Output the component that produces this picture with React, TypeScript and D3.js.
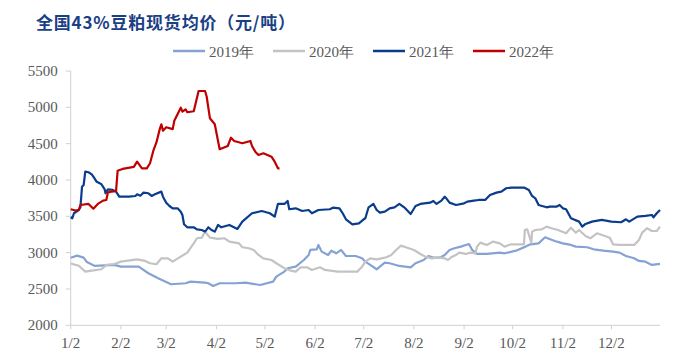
import React from "react";
import * as d3 from "d3";

// day offset from Jan 2, price (元/吨)
const months = ["1/2", "2/2", "3/2", "4/2", "5/2", "6/2", "7/2", "8/2", "9/2", "10/2", "11/2", "12/2"];
const monthDays = [0, 31, 59, 90, 120, 151, 181, 212, 243, 273, 304, 334];
const yTicks = [2000, 2500, 3000, 3500, 4000, 4500, 5000, 5500];

const s2019: [number, number][] = [
  [0, 2930], [4, 2959], [8, 2931], [10, 2870], [15, 2817], [27, 2831], [31, 2807], [42, 2807], [48, 2716],
  [54, 2647], [62, 2565], [71, 2579], [74, 2601], [83, 2587], [85, 2579], [88, 2542], [92, 2579], [102, 2579],
  [108, 2587], [117, 2555], [125, 2601], [127, 2670], [132, 2739], [134, 2785], [139, 2807], [144, 2899],
  [147, 2968], [148, 3037], [152, 3046], [153, 3106], [155, 3014], [159, 2968], [161, 3027], [164, 2991],
  [167, 3037], [170, 2954], [176, 2954], [180, 2922], [182, 2876], [185, 2831], [189, 2771], [191, 2807],
  [194, 2862], [197, 2854], [203, 2817], [210, 2798], [213, 2854], [218, 2899], [221, 2954], [224, 2931],
  [228, 2931], [231, 2968], [234, 3037], [237, 3060], [241, 3083], [244, 3106], [246, 3119], [248, 3037],
  [251, 2982], [257, 2982], [265, 3000], [268, 2991], [275, 3027], [281, 3083], [284, 3115], [289, 3128],
  [293, 3211], [299, 3161], [304, 3128], [309, 3106], [312, 3083], [319, 3074], [323, 3046], [329, 3027],
  [335, 3014], [339, 3000], [343, 2954], [348, 2922], [351, 2886], [355, 2876], [359, 2831], [364, 2845],
];

const s2020: [number, number][] = [
  [0, 2850], [5, 2819], [9, 2739], [13, 2752], [19, 2771], [22, 2831], [27, 2844], [31, 2876], [41, 2908],
  [46, 2886], [49, 2854], [53, 2840], [56, 2922], [60, 2922], [63, 2876], [68, 2945], [72, 3000], [76, 3128],
  [78, 3198], [81, 3206], [83, 3289], [86, 3206], [91, 3190], [95, 3198], [98, 3152], [104, 3128], [106, 3074],
  [110, 3060], [113, 3037], [116, 2968], [119, 2922], [124, 2899], [127, 2854], [132, 2785], [136, 2752],
  [139, 2739], [142, 2798], [146, 2798], [149, 2762], [154, 2798], [157, 2762], [165, 2739], [177, 2739],
  [180, 2807], [182, 2876], [185, 2922], [189, 2908], [192, 2922], [195, 2936], [198, 2968], [201, 3037],
  [204, 3096], [207, 3074], [212, 3037], [216, 2982], [219, 2945], [223, 2922], [227, 2936], [231, 2922],
  [233, 2899], [235, 2936], [238, 2968], [240, 3000], [244, 2982], [247, 3000], [250, 2991], [251, 3083],
  [253, 3138], [257, 3106], [261, 3152], [265, 3128], [268, 3083], [272, 3115], [280, 3115], [280.5, 3312],
  [282, 3321], [284, 3174], [284.5, 3138], [285, 3289], [287, 3312], [291, 3321], [294, 3358], [297, 3336],
  [301, 3312], [306, 3266], [309, 3344], [312, 3275], [314, 3312], [318, 3229], [321, 3198], [325, 3266],
  [330, 3229], [333, 3206], [335, 3115], [339, 3106], [348, 3106], [351, 3174], [353, 3275], [356, 3336],
  [359, 3298], [362, 3298], [364, 3358],
];

const s2021: [number, number][] = [
  [0, 3490], [1, 3473], [2, 3542], [5, 3587], [6, 3624], [7, 3908], [8, 3931], [9, 4115], [11, 4106],
  [13, 4078], [14, 4046], [16, 3977], [18, 3954], [19, 3941], [21, 3872], [21.5, 3817], [22, 3840], [23, 3872],
  [26, 3863], [28, 3840], [30, 3770], [36, 3770], [40, 3780], [41, 3803], [43, 3784], [45, 3826], [48, 3817],
  [50, 3780], [52, 3803], [56, 3840], [57, 3770], [59, 3688], [61, 3642], [63, 3610], [66, 3610], [68, 3564],
  [69, 3518], [70, 3390], [72, 3349], [76, 3349], [78, 3321], [81, 3312], [83, 3289], [85, 3349], [87, 3312],
  [89, 3289], [91, 3381], [93, 3349], [98, 3381], [103, 3326], [106, 3427], [112, 3542], [118, 3573],
  [123, 3542], [126, 3495], [128, 3670], [132, 3670], [134, 3711], [135, 3597], [139, 3610], [143, 3573],
  [147, 3587], [149, 3542], [153, 3587], [160, 3597], [162, 3619], [166, 3610], [168, 3542], [170, 3459],
  [174, 3390], [178, 3404], [181, 3459], [182, 3473], [184, 3624], [187, 3670], [189, 3587], [191, 3550],
  [194, 3564], [197, 3610], [200, 3624], [203, 3670], [206, 3624], [210, 3532], [213, 3642], [216, 3670],
  [222, 3688], [224, 3711], [226, 3670], [229, 3716], [231, 3770], [232, 3748], [234, 3688], [238, 3656],
  [243, 3679], [245, 3702], [249, 3716], [252, 3725], [256, 3725], [259, 3794], [263, 3826], [266, 3840],
  [269, 3886], [272, 3895], [280, 3895], [283, 3863], [285, 3780], [287, 3748], [289, 3656], [294, 3624],
  [296, 3633], [300, 3633], [302, 3656], [304, 3610], [306, 3597], [309, 3473], [314, 3427], [316, 3358],
  [318, 3395], [322, 3427], [328, 3450], [334, 3427], [340, 3418], [343, 3459], [345, 3427], [350, 3495],
  [355, 3505], [359, 3518], [360, 3487], [362, 3542], [364, 3587],
];

const s2022: [number, number][] = [
  [0, 3597], [3, 3580], [5, 3590], [6, 3656], [11, 3670], [14, 3605], [17, 3675], [20, 3716], [22, 3725],
  [23, 3830], [25, 3840], [28, 3845], [29, 4128], [32, 4152], [39, 4180], [41, 4252], [44, 4161], [47, 4161],
  [49, 4230], [51, 4400], [53, 4520], [55, 4700], [56, 4767], [57, 4679], [59, 4725], [63, 4700], [64, 4816],
  [68, 4995], [69, 4940], [71, 4973], [72, 4932], [76, 4946], [79, 5225], [83, 5225], [84, 5146], [86, 4849],
  [89, 4767], [92, 4423], [97, 4468], [99, 4582], [101, 4537], [106, 4505], [111, 4537], [112, 4468],
  [114, 4390], [116, 4344], [119, 4367], [124, 4321], [126, 4252], [128, 4161], [129, 4161],
];

const seriesNames = ["2019年", "2020年", "2021年", "2022年"];
const seriesColors = ["#86A2D3", "#C3C3C3", "#0A3C8C", "#C00000"];
const seriesData = [s2019, s2020, s2021, s2022];

const W = 698;
const H = 363;

export default function App() {
  const x = d3.scaleLinear().domain([0, 364]).range([70.7, 660]);
  const y = d3.scaleLinear().domain([2000, 5500]).range([325.3, 71]);
  const line = d3
    .line<[number, number]>()
    .x((d) => x(d[0]))
    .y((d) => y(d[1]));

  const serif = "'Liberation Serif', 'Times New Roman', serif";
  const axisColor = "#D0D0D0";
  const textColor = "#595959";

  return (
    <svg width={W} height={H} style={{ position: "absolute", left: 0, top: 0, background: "#fff" }}>
      <text
        x={36}
        y={29}
        fontSize={17}
        fontWeight="bold"
        letterSpacing={0.8}
        fill="#1A3F85"
        fontFamily="'Noto Sans CJK SC', sans-serif"
      >
        全国43%豆粕现货均价（元/吨）
      </text>

      {/* legend */}
      {seriesNames.map((name, i) => (
        <g key={name} transform={`translate(${173 + i * 100},51)`}>
          <line x1={0} x2={32} y1={0} y2={0} stroke={seriesColors[i]} strokeWidth={2.5} />
          <text x={36} y={5.5} fontSize={15} fill={textColor} fontFamily={serif}>
            {name}
          </text>
        </g>
      ))}

      {/* y axis */}
      <line x1={x(0)} x2={x(0)} y1={y(5500)} y2={y(2000)} stroke={axisColor} />
      {yTicks.map((t) => (
        <g key={t}>
          <line x1={x(0) - 5} x2={x(0)} y1={y(t)} y2={y(t)} stroke={axisColor} />
          <text x={x(0) - 13} y={y(t) + 5} textAnchor="end" fontSize={15} fill={textColor} fontFamily={serif}>
            {t}
          </text>
        </g>
      ))}

      {/* x axis */}
      <line x1={x(0)} x2={x(364)} y1={y(2000)} y2={y(2000)} stroke={axisColor} />
      {months.map((m, i) => (
        <g key={m}>
          <line x1={x(monthDays[i])} x2={x(monthDays[i])} y1={y(2000)} y2={y(2000) + 4} stroke={axisColor} />
          <text x={x(monthDays[i])} y={348} textAnchor="middle" fontSize={15} fill={textColor} fontFamily={serif}>
            {m}
          </text>
        </g>
      ))}

      {/* series */}
      {seriesData.map((d, i) => (
        <path
          key={seriesNames[i]}
          d={line(d) ?? ""}
          fill="none"
          stroke={seriesColors[i]}
          strokeWidth={2.2}
          strokeLinejoin="round"
        />
      ))}
    </svg>
  );
}
